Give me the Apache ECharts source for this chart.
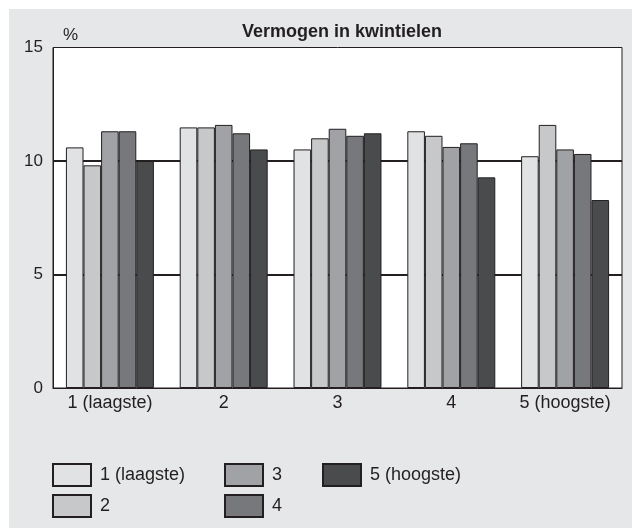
<!DOCTYPE html>
<html>
<head>
<meta charset="utf-8">
<script src="https://cdn.jsdelivr.net/npm/echarts@6/dist/echarts.min.js"></script>
<style>
  html, body { margin: 0; padding: 0; background: #ffffff; }
  #panel { position: absolute; left: 9px; top: 9px; width: 623px; height: 519px; background: #e6e7e8; }
  #chart { position: absolute; left: 0; top: 0; width: 632px; height: 529px; }
</style>
</head>
<body>
<div id="panel"></div>
<div id="chart"></div>
<script>
const categories = ['1 (laagste)', '2', '3', '4', '5 (hoogste)'];
const seriesNames = ['1 (laagste)', '2', '3', '4', '5 (hoogste)'];
const q1 = [10.6, 11.48, 10.51, 11.31, 10.21];
const q2 = [9.81, 11.48, 11.0, 11.11, 11.59];
const q3 = [11.31, 11.59, 11.42, 10.62, 10.51];
const q4 = [11.31, 11.22, 11.11, 10.78, 10.31];
const q5 = [10.0, 10.51, 11.22, 9.28, 8.28];
const values = [q1, q2, q3, q4, q5];
const colors = ['#e1e2e4', '#c7c8ca', '#a1a2a5', '#77787b', '#4a4b4d'];
const yTicks = { min: 0, max: 15, interval: 5 };

const ink = '#231f20';
const font = "'Liberation Sans', Arial, Helvetica, sans-serif";

const chart = echarts.init(document.getElementById('chart'), null, { renderer: 'canvas' });

const legendBase = {
  orient: 'vertical',
  top: 463,
  padding: 0,
  itemWidth: 38,
  itemHeight: 22,
  itemGap: 7,
  icon: 'rect',
  selectedMode: false,
  textStyle: { fontFamily: font, fontSize: 18, color: ink, lineHeight: 22, padding: [0, 0, 0, 4] }
};

chart.setOption({
  animation: false,
  backgroundColor: 'transparent',
  title: {
    text: 'Vermogen in kwintielen',
    left: 342,
    top: 23,
    padding: 0,
    textAlign: 'center',
    textStyle: { fontFamily: font, fontSize: 18, fontWeight: 'bold', color: ink }
  },
  legend: [
    Object.assign({}, legendBase, { left: 52, data: [seriesNames[0], seriesNames[1]] }),
    Object.assign({}, legendBase, { left: 224, data: [seriesNames[2], seriesNames[3]] }),
    Object.assign({}, legendBase, { left: 322, data: [seriesNames[4]] })
  ],
  grid: {
    left: 53, right: 10, top: 47.5, bottom: 141,
    show: true,
    backgroundColor: '#ffffff',
    borderColor: ink,
    borderWidth: 1,
    containLabel: false
  },
  xAxis: {
    type: 'category',
    data: categories,
    axisLine: { show: true, lineStyle: { color: ink, width: 1 } },
    axisTick: { show: false },
    axisLabel: { fontFamily: font, fontSize: 18, color: ink, margin: 6, interval: 0, hideOverlap: false },
    splitLine: { show: false }
  },
  yAxis: {
    type: 'value',
    min: yTicks.min,
    max: yTicks.max,
    interval: yTicks.interval,
    name: '%',
    nameLocation: 'end',
    nameGap: 12,
    nameTextStyle: { fontFamily: font, fontSize: 17, color: ink, align: 'left', verticalAlign: 'middle', padding: [0, 0, 0, 10] },
    axisLine: { show: true, lineStyle: { color: ink, width: 1 } },
    axisTick: { show: false },
    axisLabel: { fontFamily: font, fontSize: 17, color: ink, margin: 10 },
    splitLine: { show: true, showMinLine: false, showMaxLine: false, lineStyle: { color: ink, width: 2 } }
  },
  series: seriesNames.map((name, i) => ({
    type: 'bar',
    name: name,
    data: values[i],
    barGap: '0%',
    barCategoryGap: '22.7%',
    itemStyle: { color: colors[i], borderColor: ink, borderWidth: 1 },
    emphasis: { disabled: true }
  }))
});
</script>
</body>
</html>
